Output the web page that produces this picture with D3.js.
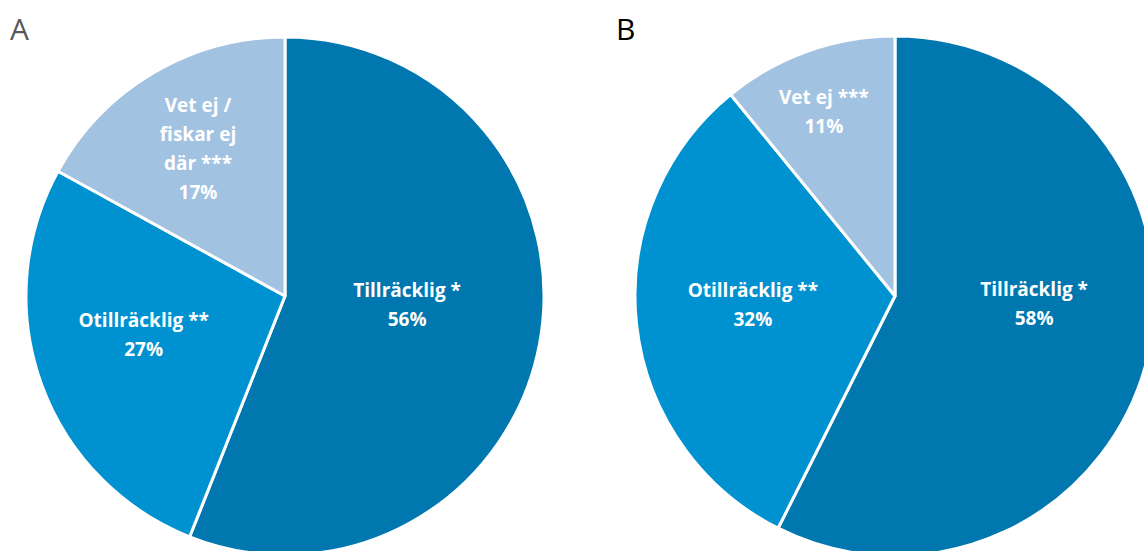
<!DOCTYPE html>
<html>
<head>
<meta charset="utf-8">
<script src="https://cdn.jsdelivr.net/npm/d3@7"></script>
<style>
    body { margin: 0; background: #fff; }
    svg { display: block; }
    text { font-variant-ligatures: none; }
</style>
</head>
<body>
<svg id="chart" width="1144" height="551"></svg>
<script>
// data for the two pies
var categories = ['Tillräcklig *', 'Otillräcklig **', 'Vet ej / fiskar ej där ***'];
var labelsA = [['Tillräcklig *', '56%'], ['Otillräcklig **', '27%'], ['Vet ej /', 'fiskar ej', 'där ***', '17%']];
var labelsB = [['Tillräcklig *', '58%'], ['Otillräcklig **', '32%'], ['Vet ej ***', '11%']];
var valuesA = [56, 27, 17];
var valuesB = [58, 32, 11];
var panelTitles = ['A', 'B'];

// layout
var colors = ['#0077af', '#0092d0', '#a2c2e2'];
var panels = [
    { title: panelTitles[0], values: valuesA, labels: labelsA, cx: 285, cy: 296, r: 259,
      titleX: 10, titleColor: '#595959',
      labelFrac: [0.48, 0.58, 0.66], labelDy: [-14, -12, 0] },
    { title: panelTitles[1], values: valuesB, labels: labelsB, cx: 895, cy: 296, r: 260,
      titleX: 616, titleColor: '#000000',
      labelFrac: [0.55, 0.55, 0.815], labelDy: [-25, -7, 15] }
];
var lineHeight = 29;
var fontSize = 19;

var svg = d3.select('#chart');
var pie = d3.pie().sort(null).value(function (d) { return d; });
var color = d3.scaleOrdinal().domain(categories).range(colors);

panels.forEach(function (p) {
    var g = svg.append('g').attr('transform', 'translate(' + p.cx + ',' + p.cy + ')');
    var arcs = pie(p.values);
    var arcGenerator = d3.arc().innerRadius(0).outerRadius(p.r);

    g.selectAll('path')
        .data(arcs)
        .enter()
        .append('path')
        .attr('d', arcGenerator)
        .attr('fill', function (d, i) { return color(categories[i]); })
        .attr('stroke', 'white')
        .attr('stroke-width', 3)
        .attr('stroke-linejoin', 'round');

    // data labels
    arcs.forEach(function (d, i) {
        var lr = p.labelFrac[i] * p.r;
        var c = d3.arc().innerRadius(lr).outerRadius(lr).centroid(d);
        var lines = p.labels[i];
        var top = c[1] + p.labelDy[i] - (lines.length - 1) * lineHeight / 2;
        var text = g.append('text')
            .attr('text-anchor', 'middle')
            .attr('font-family', '"Open Sans", "Noto Sans", sans-serif')
            .attr('font-weight', 700)
            .attr('font-size', fontSize)
            .attr('fill', 'white');
        lines.forEach(function (line, j) {
            text.append('tspan')
                .attr('x', c[0])
                .attr('y', top + j * lineHeight)
                .attr('dy', '0.35em')
                .text(line);
        });
    });

    svg.append('text')
        .attr('x', p.titleX)
        .attr('y', 40)
        .attr('font-family', '"Open Sans", "Noto Sans", sans-serif')
        .attr('font-size', 30)
        .attr('fill', p.titleColor)
        .text(p.title);
});
</script>
</body>
</html>
